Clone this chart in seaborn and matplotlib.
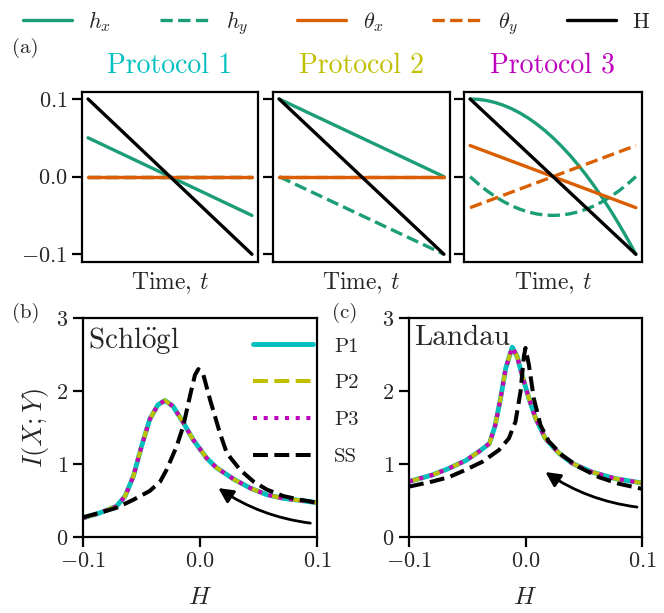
import numpy as np
import pandas as pd
import matplotlib
matplotlib.use("Agg")
import matplotlib.pyplot as plt
import seaborn as sns

sns.set_style("ticks")
plt.rcParams["font.family"] = ["cmr10", "DejaVu Serif"]
plt.rcParams["mathtext.fontset"] = "cm"
plt.rcParams["axes.formatter.use_mathtext"] = True
plt.rcParams["axes.unicode_minus"] = True

# ---------------- data ----------------
# Panel (a): field protocols vs. time
t_line = [0.0, 1.0]
t_curve = [0.0, 0.05, 0.1, 0.15, 0.2, 0.25, 0.3, 0.35, 0.4, 0.45, 0.5,
           0.55, 0.6, 0.65, 0.7, 0.75, 0.8, 0.85, 0.9, 0.95, 1.0]
H_ramp = [0.1, -0.1]

p1_hx = [0.05, -0.05]
p1_hy = [0.0, 0.0]
p1_thx = [0.0, 0.0]
p1_thy = [0.0, 0.0]

p2_hx = [0.1, 0.0]
p2_hy = [0.0, -0.1]
p2_thx = [0.0, 0.0]
p2_thy = [0.0, 0.0]

p3_hx = [0.1, 0.0995, 0.098, 0.0955, 0.092, 0.0875, 0.082, 0.0755, 0.068, 0.0595, 0.05,
         0.0395, 0.028, 0.0155, 0.002, -0.0125, -0.028, -0.0445, -0.062, -0.0805, -0.1]
p3_hy = [0.0, -0.0095, -0.018, -0.0255, -0.032, -0.0375, -0.042, -0.0455, -0.048, -0.0495, -0.05,
         -0.0495, -0.048, -0.0455, -0.042, -0.0375, -0.032, -0.0255, -0.018, -0.0095, 0.0]
p3_thx = [0.04, -0.04]
p3_thy = [-0.04, 0.04]

# Panel (b): Schloegl model, mutual information vs. H
hb = [-0.1, -0.0857, -0.0714, -0.064, -0.057, -0.05, -0.043, -0.036, -0.03,
      -0.023, -0.014, -0.0057, 0.0057, 0.014, 0.029, 0.043, 0.057, 0.071, 0.086, 0.1]
Ib_proto = [0.26, 0.33, 0.42, 0.56, 0.83, 1.24, 1.61, 1.81, 1.87,
            1.79, 1.56, 1.33, 1.08, 0.95, 0.79, 0.67, 0.58, 0.53, 0.50, 0.47]
hb_ss = [-0.1, -0.0857, -0.0714, -0.057, -0.043, -0.034, -0.0286, -0.02, -0.0143,
         -0.0086, -0.0043, -0.0014, 0.0029, 0.0086, 0.0171, 0.0229, 0.0343, 0.0457,
         0.0571, 0.0714, 0.0857, 0.1]
Ib_ss = [0.27, 0.33, 0.40, 0.51, 0.63, 0.76, 0.92, 1.24, 1.52,
         1.93, 2.22, 2.30, 2.22, 1.88, 1.42, 1.15, 0.92, 0.76,
         0.65, 0.56, 0.51, 0.47]

# Panel (c): Landau model
hc = [-0.1, -0.08, -0.0657, -0.051, -0.04, -0.031, -0.026, -0.0214, -0.017,
      -0.0114, -0.0071, -0.003, 0.0029, 0.0086, 0.017, 0.0286, 0.04, 0.057, 0.077, 0.1]
Ic_proto = [0.76, 0.85, 0.94, 1.05, 1.17, 1.28, 1.53, 1.90, 2.31,
            2.60, 2.47, 2.22, 1.90, 1.63, 1.35, 1.15, 1.01, 0.89, 0.80, 0.74]
hc_ss = [-0.1, -0.08, -0.0657, -0.0514, -0.0371, -0.0229, -0.0143, -0.0086, -0.0043,
         -0.0014, 0.0, 0.0029, 0.0071, 0.0129, 0.02, 0.0314, 0.0457, 0.0629, 0.08, 0.1]
Ic_ss = [0.69, 0.76, 0.82, 0.92, 1.03, 1.19, 1.35, 1.58, 1.99,
         2.47, 2.59, 2.36, 1.90, 1.53, 1.31, 1.12, 0.96, 0.82, 0.73, 0.66]

series_labels = [r"$h_x$", r"$h_y$", r"$\theta_x$", r"$\theta_y$", "H"]
protocol_titles = ["Protocol 1", "Protocol 2", "Protocol 3"]
curve_labels = ["P1", "P2", "P3", "SS"]

# ---------------- style ----------------
green = "#1b9e77"
orange = "#d95f02"
proto_colors = ["c", "y", "m"]
lw_a = 2.4
lw_b = 2.9
spine_w = 1.6

W, Hpx = 664, 613
fig = plt.figure(figsize=(W / 100, Hpx / 100), dpi=100)


def add_ax(x0, y0, x1, y1):
    return fig.add_axes([x0 / W, 1 - y1 / Hpx, (x1 - x0) / W, (y1 - y0) / Hpx])


def style_ax(ax, fs=16):
    for s in ax.spines.values():
        s.set_linewidth(spine_w)
        s.set_color("black")
    ax.tick_params(width=spine_w, length=7, labelsize=fs, color="black")


axes_a = [add_ax(82, 92, 258, 262), add_ax(273, 92, 450, 262), add_ax(464, 92, 642, 262)]

protocols = [
    (t_line, p1_hx, t_line, p1_hy, p1_thx, p1_thy),
    (t_line, p2_hx, t_line, p2_hy, p2_thx, p2_thy),
    (t_curve, p3_hx, t_curve, p3_hy, p3_thx, p3_thy),
]

for i, (ax, (tx, hx, ty, hy, thx, thy)) in enumerate(zip(axes_a, protocols)):
    sns.lineplot(x=tx, y=hx, ax=ax, color=green, lw=lw_a, label=series_labels[0])
    sns.lineplot(x=ty, y=hy, ax=ax, color=green, lw=lw_a, linestyle="--", label=series_labels[1])
    sns.lineplot(x=t_line, y=thx, ax=ax, color=orange, lw=lw_a, label=series_labels[2])
    sns.lineplot(x=t_line, y=thy, ax=ax, color=orange, lw=lw_a, linestyle="--", label=series_labels[3])
    sns.lineplot(x=t_line, y=H_ramp, ax=ax, color="black", lw=lw_a, label=series_labels[4])
    ax.set_xlim(-0.037, 1.037)
    ax.set_ylim(-0.11, 0.109)
    ax.set_xticks([])
    ax.set_yticks([-0.1, 0.0, 0.1])
    if i > 0:
        ax.set_yticklabels([])
    ax.set_xlabel(r"Time, $t$", fontsize=17, labelpad=6)
    ax.set_title(protocol_titles[i], color=proto_colors[i], fontsize=20, pad=14)
    style_ax(ax)
    handles, labels = ax.get_legend_handles_labels()
    ax.get_legend().remove()

fig.legend(handles, labels, loc="upper center", bbox_to_anchor=(0.506, 1.018), ncol=5,
           frameon=False, fontsize=16, handlelength=2.2, handletextpad=0.75,
           columnspacing=2.2)

fig.text(12 / W, 1 - 48 / Hpx, "(a)", fontsize=15, va="center", ha="left")

# ---------------- panels (b) and (c) ----------------
ax_b = add_ax(83, 318, 317, 537)
ax_c = add_ax(409, 318, 642, 537)

for ax, hp, Ip, hs, Is, name in [
    (ax_b, hb, Ib_proto, hb_ss, Ib_ss, r"$\mathrm{Schl\ddot{o}gl}$"),
    (ax_c, hc, Ic_proto, hc_ss, Ic_ss, "Landau"),
]:
    sns.lineplot(x=hp, y=Ip, ax=ax, color="c", lw=lw_b + 0.6, label=curve_labels[0])
    sns.lineplot(x=hp, y=Ip, ax=ax, color="y", lw=lw_b, linestyle="--", label=curve_labels[1])
    sns.lineplot(x=hp, y=Ip, ax=ax, color="m", lw=lw_b, linestyle=":", label=curve_labels[2])
    sns.lineplot(x=hs, y=Is, ax=ax, color="black", lw=lw_b, linestyle="--", label=curve_labels[3])
    ax.set_xlim(-0.1, 0.1)
    ax.set_ylim(0, 3)
    ax.set_xticks([-0.1, 0.0, 0.1])
    ax.set_yticks([0, 1, 2, 3])
    ax.set_xlabel(r"$H$", fontsize=18, labelpad=11)
    style_ax(ax)
    ax.text(0.02, 0.97, name, transform=ax.transAxes, fontsize=21, va="top", ha="left")

ax_b.set_ylabel(r"$I(X;Y)$", fontsize=19, labelpad=4)
ax_c.get_legend().remove()
hb_handles, hb_labels = ax_b.get_legend_handles_labels()
ax_b.get_legend().remove()
fig.legend(hb_handles, hb_labels, loc="upper left",
           bbox_to_anchor=(253 / W, 1 - 337 / Hpx), frameon=False, fontsize=15,
           handlelength=2.9, handletextpad=1.0, labelspacing=0.88,
           borderpad=0, borderaxespad=0)

# arrows indicating sweep direction
arrow_kw = dict(arrowstyle="-|>", lw=2.0, color="black", mutation_scale=22,
                shrinkA=0, shrinkB=0)
ax_b.annotate("", xy=(0.0157, 0.67), xytext=(0.0943, 0.19),
              arrowprops=dict(connectionstyle="arc3,rad=-0.12", **arrow_kw))
ax_c.annotate("", xy=(0.0171, 0.89), xytext=(0.0957, 0.41),
              arrowprops=dict(connectionstyle="arc3,rad=-0.12", **arrow_kw))

fig.text(12 / W, 1 - 313 / Hpx, "(b)", fontsize=15, va="center", ha="left")
fig.text(332 / W, 1 - 313 / Hpx, "(c)", fontsize=15, va="center", ha="left")

fig.savefig("out.png", dpi=100)
